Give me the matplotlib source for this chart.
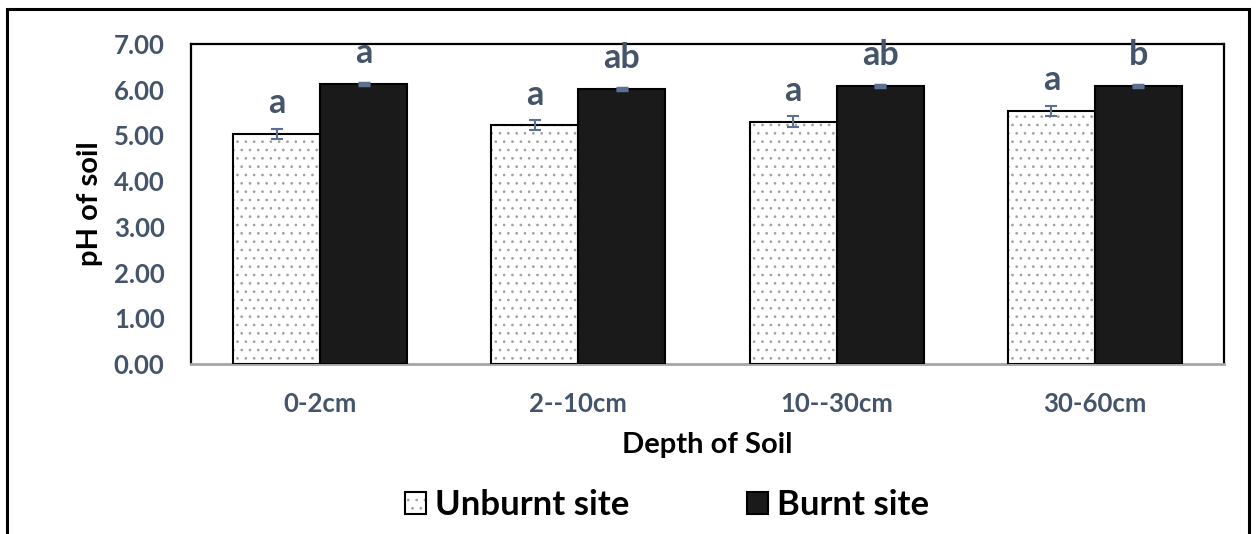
import matplotlib
matplotlib.use("Agg")
import matplotlib.pyplot as plt
import numpy as np
from matplotlib.patches import Patch, Rectangle
from matplotlib.legend_handler import HandlerTuple

# Soil pH by depth, unburnt vs burnt site
depths = ["0-2cm", "2--10cm", "10--30cm", "30-60cm"]
unburnt = [5.04, 5.22, 5.30, 5.53]
burnt = [6.12, 6.01, 6.09, 6.09]
unburnt_err = [0.11, 0.11, 0.12, 0.11]
burnt_err = [0.02, 0.02, 0.02, 0.02]
unburnt_letters = ["a", "a", "a", "a"]
burnt_letters = ["a", "ab", "ab", "b"]
y_ticks = [0, 1, 2, 3, 4, 5, 6, 7]

TXT = "#44546A"
ERR = "#5B7092"
FONT = "Lato"
DOTS = "#a0a0a0"

plt.rcParams["font.family"] = [FONT, "DejaVu Sans"]
plt.rcParams["hatch.linewidth"] = 0.7

fig = plt.figure(figsize=(12.59, 5.34), dpi=100)
ax = fig.add_axes([0.1517, 0.3184, 0.9722 - 0.1517, 0.9176 - 0.3184])

x = np.arange(len(depths))
w = 0.337

# unburnt: grey dotted fill, black outline drawn on top
ax.bar(x - w / 2, unburnt, w, color="white", hatch="..", edgecolor=DOTS,
       linewidth=0, zorder=2)
ax.bar(x - w / 2, unburnt, w, fill=False, edgecolor="black", linewidth=1.5, zorder=3)
ax.bar(x + w / 2, burnt, w, color="#1a1a1a", edgecolor="black", linewidth=1.5, zorder=3)

ax.errorbar(x - w / 2, unburnt, yerr=unburnt_err, fmt="none", ecolor=ERR,
            elinewidth=1.5, capsize=4, capthick=1.5, zorder=4)
ax.errorbar(x + w / 2, burnt, yerr=burnt_err, fmt="none", ecolor=ERR,
            elinewidth=1.5, capsize=4.5, capthick=2.5, zorder=4)

for xi, v, t in zip(x - w / 2, unburnt, unburnt_letters):
    ax.annotate(t, (xi, v), xytext=(0, 15), textcoords="offset points",
                ha="center", va="baseline", fontsize=24.5, fontweight="bold", color=TXT)
for xi, v, t in zip(x + w / 2, burnt, burnt_letters):
    ax.annotate(t, (xi, v), xytext=(0, 15), textcoords="offset points",
                ha="center", va="baseline", fontsize=24.5, fontweight="bold", color=TXT)

ax.set_xlim(-0.5, len(depths) - 0.5)
ax.set_ylim(0, 7)
ax.set_yticks(y_ticks)
ax.set_yticklabels([f"{v:.2f}" for v in y_ticks])
ax.set_xticks(x)
ax.set_xticklabels(depths)
ax.tick_params(axis="both", length=0, labelsize=18.5, labelcolor=TXT)
ax.tick_params(axis="y", pad=19)
ax.tick_params(axis="x", pad=20)
for lab in ax.get_xticklabels() + ax.get_yticklabels():
    lab.set_fontweight("bold")

for s in ["left", "top", "right"]:
    ax.spines[s].set_color("black")
    ax.spines[s].set_linewidth(1.6)
ax.spines["bottom"].set_color("#a6a6a6")
ax.spines["bottom"].set_linewidth(2)

ax.set_ylabel("pH of soil", fontsize=21, fontweight="bold", color="black", labelpad=8)
ax.set_xlabel("Depth of Soil", fontsize=21, fontweight="bold", color="black", labelpad=12)

h1 = (Patch(facecolor="white", hatch="..", edgecolor=DOTS, linewidth=0),
      Patch(fill=False, edgecolor="black", linewidth=1.5))
h2 = Patch(facecolor="#1a1a1a", edgecolor="black", linewidth=1.5)
fig.legend([h1, h2], ["Unburnt site", "Burnt site"],
           handler_map={tuple: HandlerTuple(ndivide=1)},
           loc="center", bbox_to_anchor=(667 / 1259, 1 - 505 / 534),
           ncol=2, frameon=False, prop={"family": FONT, "weight": "bold", "size": 25},
           handlelength=0.6, handleheight=0.6, handletextpad=0.25, columnspacing=3.4)

# outer chart frame
fig.patches.append(Rectangle((7 / 1259, -0.1), (1249 - 7) / 1259, 1.1 - 9 / 534,
                             transform=fig.transFigure, fill=False,
                             edgecolor="black", linewidth=2.2))

fig.savefig("out.png", dpi=100)
